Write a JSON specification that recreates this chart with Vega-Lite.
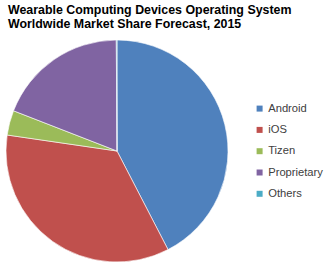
{
  "$schema": "https://vega.github.io/schema/vega-lite/v6.json",
  "width": 228,
  "height": 222,
  "autosize": {"type": "none"},
  "padding": {"left": 3, "top": 40, "right": 100, "bottom": 4},
  "background": "#ffffff",
  "title": {
    "text": ["Wearable Computing Devices Operating System", "Worldwide Market Share Forecast, 2015"],
    "anchor": "start",
    "frame": "group",
    "dx": 5,
    "offset": 8,
    "font": "Liberation Sans",
    "fontSize": 12.4,
    "fontWeight": "bold",
    "color": "#000000",
    "lineHeight": 14
  },
  "data": {
    "values": [
      {"os": "Android", "share": 42.4, "order": 1},
      {"os": "iOS", "share": 34.9, "order": 2},
      {"os": "Tizen", "share": 3.6, "order": 3},
      {"os": "Proprietary", "share": 19.0, "order": 4},
      {"os": "Others", "share": 0.1, "order": 5}
    ]
  },
  "mark": {"type": "arc", "stroke": "#ffffff", "strokeWidth": 0.6},
  "encoding": {
    "theta": {"field": "share", "type": "quantitative", "stack": true},
    "order": {"field": "order", "type": "quantitative"},
    "color": {
      "field": "os",
      "type": "nominal",
      "sort": ["Android", "iOS", "Tizen", "Proprietary", "Others"],
      "scale": {
        "domain": ["Android", "iOS", "Tizen", "Proprietary", "Others"],
        "range": ["#4F81BD", "#C0504D", "#9BBB59", "#8064A2", "#4BACC6"]
      },
      "legend": {
        "title": null,
        "orient": "none",
        "legendX": 251,
        "legendY": 63,
        "symbolType": "square",
        "symbolSize": 36,
        "symbolStrokeWidth": 0,
        "labelFont": "Liberation Sans",
        "labelFontSize": 11.2,
        "labelColor": "#404040",
        "labelOffset": 3,
        "rowPadding": 9.3,
        "padding": 0
      }
    }
  },
  "config": {"view": {"stroke": null}}
}
